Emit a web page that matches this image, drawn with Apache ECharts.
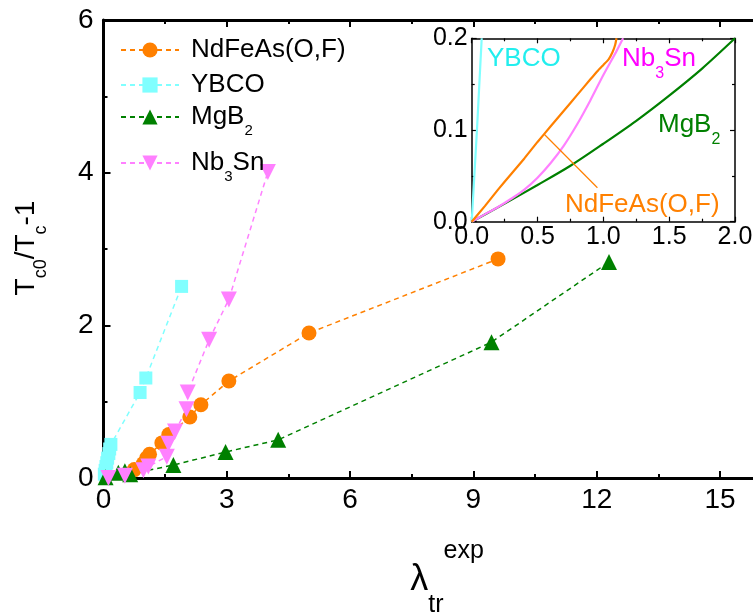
<!DOCTYPE html>
<html><head><meta charset="utf-8">
<script src="https://cdn.jsdelivr.net/npm/echarts@6/dist/echarts.min.js"></script>
<style>html,body{margin:0;padding:0;background:#fff}#c{width:753px;height:615px}</style>
</head><body><div id="c"></div>
<script>
const FONT = 'Arial, "Liberation Sans", sans-serif';

// ---- main panel data ----
const seriesNames = ['NdFeAs(O,F)', 'YBCO', 'MgB2', 'Nb3Sn'];
const ndfeasX = [0.75, 0.97, 1.05, 1.12, 1.42, 1.59, 2.10, 2.37, 3.05, 5.0, 9.6];
const ndfeasY = [0.11, 0.19, 0.26, 0.31, 0.46, 0.57, 0.80, 0.96, 1.27, 1.90, 2.87];
const ybcoX = [0.02, 0.04, 0.06, 0.08, 0.10, 0.13, 0.15, 0.18, 0.89, 1.03, 1.90];
const ybcoY = [0.05, 0.10, 0.15, 0.20, 0.26, 0.32, 0.38, 0.44, 1.12, 1.31, 2.51];
const mgb2X = [0.05, 0.36, 0.52, 0.65, 1.70, 2.97, 4.25, 9.44, 12.3];
const mgb2Y = [0.01, 0.07, 0.09, 0.05, 0.17, 0.34, 0.50, 1.78, 2.83];
const nb3snX = [0.12, 0.52, 0.97, 1.09, 1.54, 1.58, 1.74, 2.02, 2.05, 2.57, 3.05, 4.0];
const nb3snY = [0.00, 0.03, 0.10, 0.15, 0.28, 0.45, 0.61, 0.90, 1.12, 1.81, 2.34, 4.01];

// ---- inset data ----
const inNdX = [0, 0.1, 0.2, 0.3, 0.4, 0.5, 0.6, 0.7, 0.8, 0.9, 0.96, 1.0, 1.04, 1.07, 1.09, 1.1];
const inNdY = [0, 0.017, 0.035, 0.052, 0.069, 0.087, 0.104, 0.121, 0.138, 0.155, 0.165, 0.171, 0.177, 0.185, 0.193, 0.2];
const inYbX = [0, 0.04, 0.076];
const inYbY = [0, 0.1, 0.2];
const inMgX = [0, 0.25, 0.5, 0.75, 1.0, 1.25, 1.5, 1.75, 2.0];
const inMgY = [0, 0.0197, 0.040, 0.061, 0.085, 0.110, 0.1375, 0.167, 0.2];
const inNbX = [0, 0.1, 0.2, 0.3, 0.4, 0.5, 0.6, 0.7, 0.8, 0.9, 1.0, 1.1, 1.15];
const inNbY = [0, 0.008, 0.016, 0.025, 0.035, 0.048, 0.064, 0.083, 0.106, 0.132, 0.160, 0.186, 0.2];
const pointerFrom = [0.549, 0.0956];
const pointerTo = [0.955, 0.037];

const mainXTicks = {min: 0, max: 18, interval: 3};
const mainYTicks = {min: 0, max: 6, interval: 2};
const inXTicks = {min: 0, max: 2, interval: 0.5};
const inYTicks = {min: 0, max: 0.2, interval: 0.1};

const COL = {nd: '#ff8000', yb: '#80ffff', mg: '#008000', nb: '#ff80ff'};

const zip = (a, b) => a.map((v, i) => [v, b[i]]);

const chart = echarts.init(document.getElementById('c'), null, {renderer: 'canvas'});

function axisBase(t, lw, tickLen, minorLen, label) {
  return Object.assign({
    type: 'value',
    axisLine: {show: true, onZero: false, lineStyle: {color: '#000', width: lw}},
    axisTick: {show: true, inside: true, length: tickLen, lineStyle: {color: '#000', width: lw > 2 ? 2 : 1.2}},
    minorTick: {show: true, splitNumber: 2, length: minorLen, lineStyle: {color: '#000', width: lw > 2 ? 2 : 1.2}},
    splitLine: {show: false},
    minorSplitLine: {show: false},
    axisLabel: label || {show: false}
  }, t);
}

const mainLabel = (margin, hideMax) => ({show: true, fontSize: 28, fontFamily: FONT, color: '#000', margin: margin, showMaxLabel: !hideMax});
const insetLabel = (margin) => ({show: true, fontSize: 25, fontFamily: FONT, color: '#000', margin: margin,
  showMinLabel: true, showMaxLabel: true, formatter: v => v.toFixed(1)});

const subRich = (fs, off, lh) => ({fontSize: fs, fontFamily: FONT, padding: [2 * off, 0, 0, 0], lineHeight: lh, verticalAlign: 'middle'});

function lineSeries(name, xs, ys, color, symbol, size, rot) {
  return {
    type: 'line', name: name, xAxisIndex: 0, yAxisIndex: 0,
    data: zip(xs, ys), symbol: symbol, symbolSize: size, symbolRotate: rot || 0,
    showAllSymbol: true, clip: false,
    lineStyle: {color: color, width: 1.5, type: [5, 4]},
    itemStyle: {color: color, opacity: 1},
    emphasis: {disabled: true}, animation: false
  };
}
function insetSeries(name, xs, ys, color, extra) {
  return Object.assign({
    type: 'line', name: name, xAxisIndex: 2, yAxisIndex: 1,
    data: zip(xs, ys), showSymbol: false, symbol: 'none', smooth: 0.3,
    lineStyle: {color: color, width: 2.2}, emphasis: {disabled: true}, animation: false
  }, extra || {});
}

const legendCenters = [50, 85, 117, 163];
const legendFmt = {
  'NdFeAs(O,F)': 'NdFeAs(O,F)',
  'YBCO': 'YBCO',
  'MgB2': 'MgB{s|2}',
  'Nb3Sn': 'Nb{s|3}Sn'
};
const legends = seriesNames.map((n, i) => ({
  data: [n], left: 120, top: legendCenters[i] - 24, padding: 0, orient: 'vertical',
  itemWidth: 58, itemHeight: 19, selectedMode: false,
  formatter: nm => legendFmt[nm],
  textStyle: {fontSize: 26, fontFamily: FONT, color: '#000', lineHeight: 48, padding: [0, 0, 0, 7],
    rich: {s: subRich(15, 14, 48)}}
}));

const option = {
  backgroundColor: '#fff',
  animation: false,
  grid: [
    {left: 103.5, top: 20, width: 18 * 41.1, height: 458, containLabel: false, outerBoundsMode: 'none'},
    {left: 471.7, top: 38.3, width: 263.3, height: 183.4, containLabel: false, outerBoundsMode: 'none'}
  ],
  xAxis: [
    axisBase(Object.assign({gridIndex: 0, position: 'bottom'}, mainXTicks), 3, 7, 4, mainLabel(8, true)),
    axisBase(Object.assign({gridIndex: 0, position: 'top'}, mainXTicks), 3, 7, 4),
    axisBase(Object.assign({gridIndex: 1, position: 'bottom'}, inXTicks), 1.5, 5, 3, insetLabel(3)),
    axisBase(Object.assign({gridIndex: 1, position: 'top'}, inXTicks), 1.5, 5, 3)
  ],
  yAxis: [
    axisBase(Object.assign({gridIndex: 0, position: 'left'}, mainYTicks), 3, 7, 4, mainLabel(10, false)),
    axisBase(Object.assign({gridIndex: 1, position: 'left'}, inYTicks), 1.5, 5, 3, insetLabel(4)),
    axisBase(Object.assign({gridIndex: 1, position: 'right'}, inYTicks), 1.5, 5, 3)
  ],
  legend: legends,
  series: [
    lineSeries('NdFeAs(O,F)', ndfeasX, ndfeasY, COL.nd, 'circle', 15),
    lineSeries('YBCO', ybcoX, ybcoY, COL.yb, 'rect', 13),
    lineSeries('MgB2', mgb2X, mgb2Y, COL.mg, 'triangle', 16),
    lineSeries('Nb3Sn', nb3snX, nb3snY, COL.nb, 'triangle', 16, 180),
    insetSeries('inYBCO', inYbX, inYbY, COL.yb, {smooth: false}),
    insetSeries('inMgB2', inMgX, inMgY, COL.mg),
    insetSeries('inNb3Sn', inNbX, inNbY, COL.nb),
    insetSeries('inNdFeAs', inNdX, inNdY, COL.nd, {
      smooth: 0.15,
      markLine: {silent: true, symbol: 'none', label: {show: false},
        lineStyle: {color: COL.nd, width: 1.2, type: 'solid'},
        data: [[{coord: pointerFrom}, {coord: pointerTo}]]}
    })
  ],
  graphic: [
    {type: 'text', x: 26, y: 248, rotation: Math.PI / 2, silent: true,
      style: {text: 'T{s|c0}/T{s|c}-1', fontSize: 28, fontFamily: FONT, fill: '#000', align: 'center', verticalAlign: 'middle',
        lineHeight: 48, rich: {s: {fontSize: 18, fontFamily: FONT, fill: '#000', padding: [30, 0, 0, 0], lineHeight: 48, verticalAlign: 'middle'}}}},
    {type: 'text', x: 447, y: 580, silent: true,
      style: {text: '{l|λ}{t|tr}{e|exp}', fill: '#000', align: 'center', verticalAlign: 'middle', lineHeight: 90,
        rich: {
          l: {fontSize: 36, fontFamily: FONT, fill: '#000', lineHeight: 90, verticalAlign: 'middle'},
          t: {fontSize: 25, fontFamily: FONT, fill: '#000', padding: [50, 0, 0, 0], lineHeight: 90, verticalAlign: 'middle'},
          e: {fontSize: 25, fontFamily: FONT, fill: '#000', padding: [0, 0, 58, 0], lineHeight: 90, verticalAlign: 'middle'}
        }}},
    {type: 'text', x: 487, y: 59, silent: true,
      style: {text: 'YBCO', fontSize: 26, fontFamily: FONT, fill: '#22eeee', align: 'left', verticalAlign: 'middle'}},
    {type: 'text', x: 622, y: 59, silent: true,
      style: {text: 'Nb{s|3}Sn', fontSize: 26, fontFamily: FONT, fill: '#ff00ff', align: 'left', verticalAlign: 'middle', lineHeight: 48,
        rich: {s: {fontSize: 16, fontFamily: FONT, fill: '#ff00ff', padding: [30, 0, 0, 0], lineHeight: 48, verticalAlign: 'middle'}}}},
    {type: 'text', x: 658, y: 125, silent: true,
      style: {text: 'MgB{s|2}', fontSize: 26, fontFamily: FONT, fill: '#008000', align: 'left', verticalAlign: 'middle', lineHeight: 48,
        rich: {s: {fontSize: 16, fontFamily: FONT, fill: '#008000', padding: [30, 0, 0, 0], lineHeight: 48, verticalAlign: 'middle'}}}},
    {type: 'text', x: 565, y: 205, silent: true,
      style: {text: 'NdFeAs(O,F)', fontSize: 26, fontFamily: FONT, fill: '#ff8000', align: 'left', verticalAlign: 'middle'}}
  ]
};
chart.setOption(option);
</script>
</body></html>
